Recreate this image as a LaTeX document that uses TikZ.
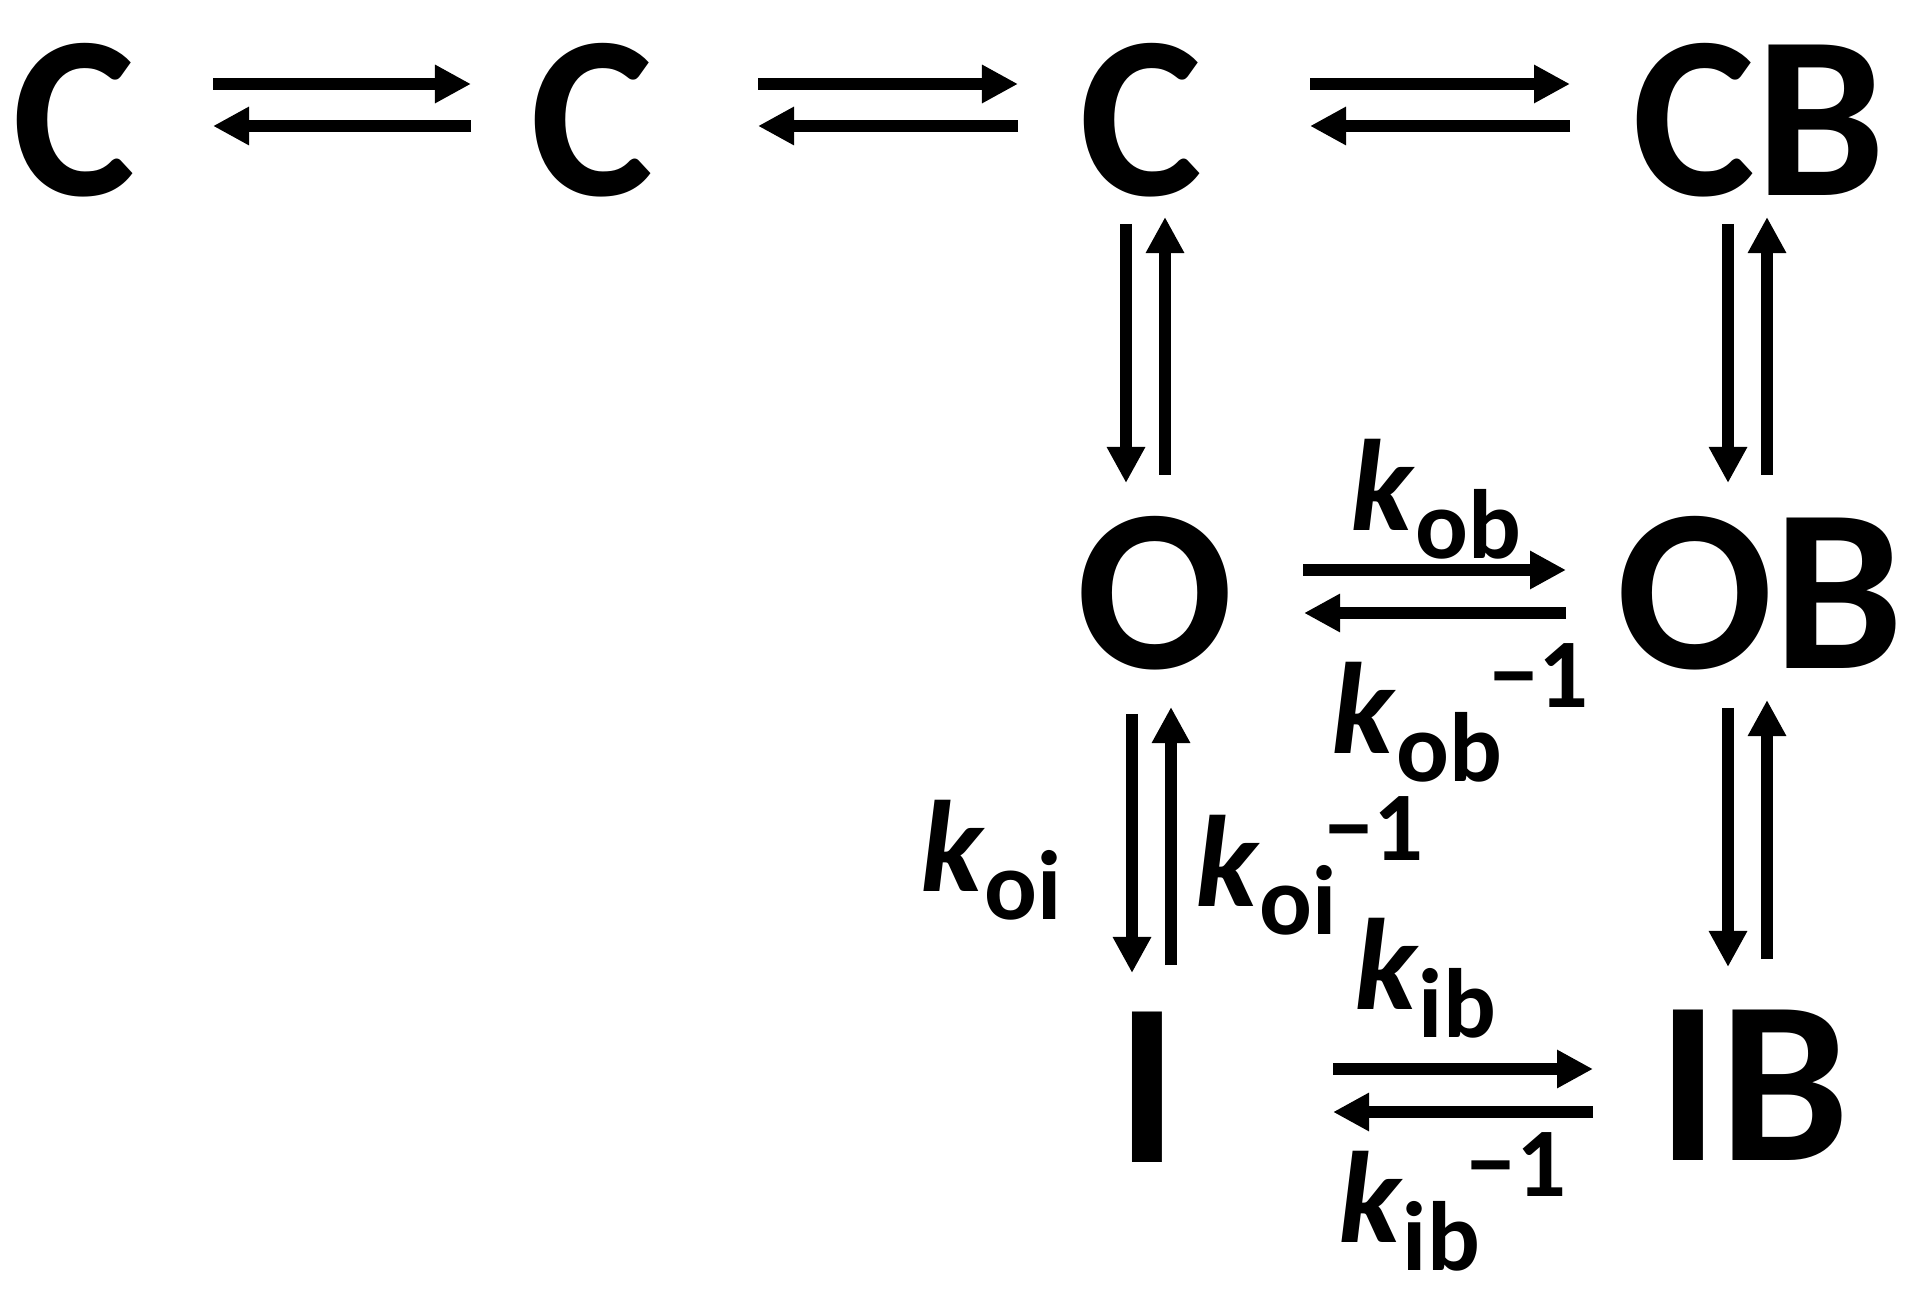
\documentclass[tikz,border=0pt]{standalone}
\usepackage{fontspec}
\setmainfont{Carlito}
\usetikzlibrary{arrows.meta}

\newcommand{\subfont}{\fontsize{28}{28}\selectfont}
\newcommand{\kf}[1]{\textit{k}\raisebox{-8pt}{\subfont #1}}
\newcommand{\kb}[1]{\textit{k}\raisebox{-8pt}{\subfont #1}\hspace{-0.1em}\raisebox{13pt}{\subfont −1}}

\begin{document}
\begin{tikzpicture}
[
x=0.01cm, y=-0.01cm,
state/.style={inner sep=0pt, font=\fontsize{66}{70}\selectfont\bfseries},
rate/.style={inner sep=0pt, font=\fontsize{37}{40}\selectfont\bfseries},
arr/.style={line width=3.4pt, -{Triangle[length=0.36cm,width=0.36cm]}}
]
\useasboundingbox (0,0) rectangle (1931,1295);
\node[state] (c1) at (74,120) {C};
\node[state] (c2) at (592,120) {C};
\node[state] (c3) at (1141,120) {C};
\node[state] (cb) at (1759,120) {CB};
\node[state] (o) at (1155,593) {O};
\node[state] (ob) at (1760,593) {OB};
\node[state] (i) at (1147,1087) {I};
\node[state] (ib) at (1753,1085) {IB};

\node[rate] (kob) at (1436,499) {\kf{ob}};
\node[rate] (kobr) at (1460,713) {\kb{ob}};
\node[rate] (koi) at (991,860) {\kf{oi}};
\node[rate] (koir) at (1309,866) {\kb{oi}};
\node[rate] (kib) at (1425,978) {\kf{ib}};
\node[rate] (kibr) at (1452,1202) {\kb{ib}};

% top row
\draw[arr] ([shift={(139,-36)}]c1.center)--([shift={(-121,-36)}]c2.center);
\draw[arr] ([shift={(-121,6)}]c2.center)--([shift={(139,6)}]c1.center);
\draw[arr] ([shift={(166,-36)}]c2.center)--([shift={(-123,-36)}]c3.center);
\draw[arr] ([shift={(-123,6)}]c3.center)--([shift={(166,6)}]c2.center);
\draw[arr] ([shift={(169,-36)}]c3.center)--([shift={(-189,-36)}]cb.center);
\draw[arr] ([shift={(-189,6)}]cb.center)--([shift={(169,6)}]c3.center);
% O <-> OB, I <-> IB
\draw[arr] ([shift={(148,-23)}]o.center)--([shift={(-194,-23)}]ob.center);
\draw[arr] ([shift={(-194,20)}]ob.center)--([shift={(149,20)}]o.center);
\draw[arr] ([shift={(186,-18)}]i.center)--([shift={(-160,-16)}]ib.center);
\draw[arr] ([shift={(-160,27)}]ib.center)--([shift={(186,25)}]i.center);
% columns
\draw[arr] ([shift={(-15,104)}]c3.center)--([shift={(-29,-110)}]o.center);
\draw[arr] ([shift={(10,-118)}]o.center)--([shift={(24,97)}]c3.center);
\draw[arr] ([shift={(-31,104)}]cb.center)--([shift={(-32,-110)}]ob.center);
\draw[arr] ([shift={(7,-118)}]ob.center)--([shift={(8,97)}]cb.center);
\draw[arr] ([shift={(-23,121)}]o.center)--([shift={(-15,-114)}]i.center);
\draw[arr] ([shift={(24,-122)}]i.center)--([shift={(16,114)}]o.center);
\draw[arr] ([shift={(-32,115)}]ob.center)--([shift={(-25,-118)}]ib.center);
\draw[arr] ([shift={(14,-126)}]ib.center)--([shift={(7,107)}]ob.center);
\end{tikzpicture}
\end{document}
